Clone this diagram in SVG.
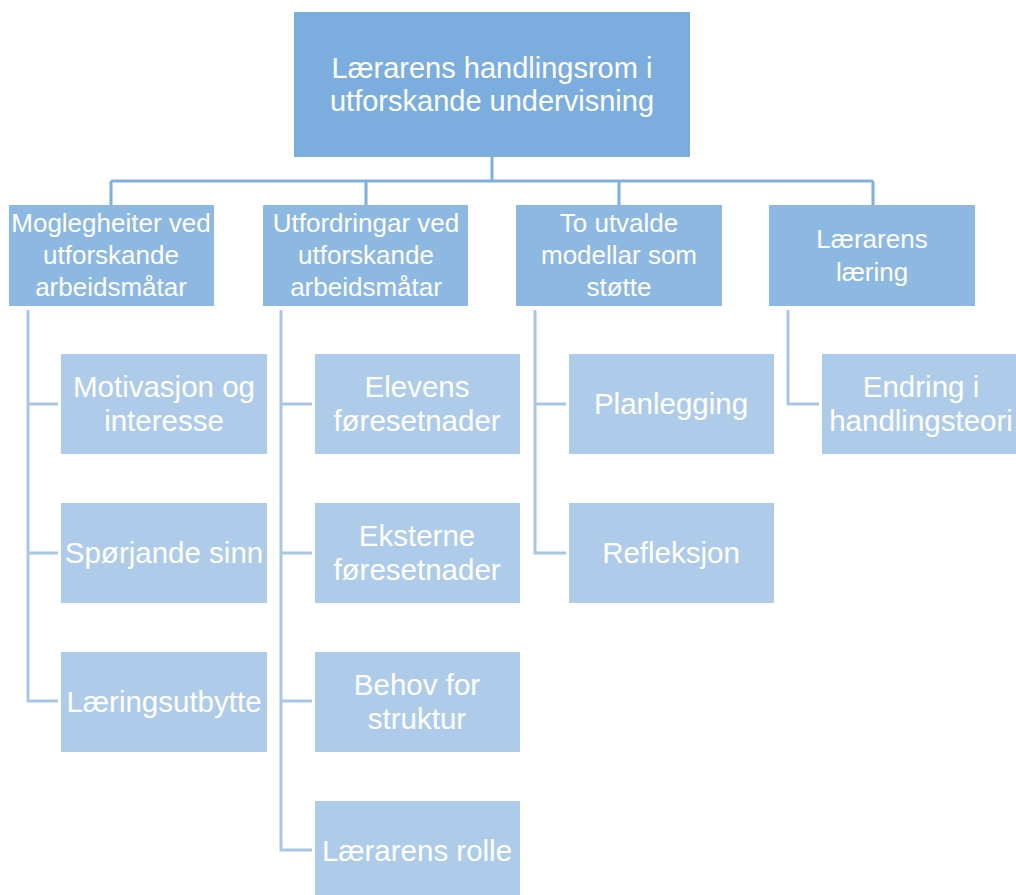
<svg xmlns="http://www.w3.org/2000/svg" width="1016" height="895" viewBox="0 0 1016 895">
  <style>
    .root { fill: #7BAEDE; }
    .l2 { fill: #8DB8E1; }
    .l3 { fill: #AECCEA; }
    text { fill: #FFFFFF; font-family: "Liberation Sans", "Noto Sans", Arial, sans-serif; text-anchor: middle; }
    .t1 { font-size: 29px; }
    .t2 { font-size: 26px; }
    .t3 { font-size: 29.5px; }
    .top-links { fill: none; stroke: #7EAFDD; stroke-width: 3; }
    .sub-links { fill: none; stroke: #A8C7E7; stroke-width: 3; }
  </style>
  <rect width="1016" height="895" fill="#FFFFFF"/>

  <!-- connectors -->
  <g id="connectors">
    <path class="top-links" d="M492 157 V181 M111 181 H873 M111 181 V205 M366 181 V205 M619 181 V205 M873 181 V205"/>
    <path class="sub-links" d="M28 310 V701 H58 M28 404 H58 M28 553 H58"/>
    <path class="sub-links" d="M281 310 V850 H312 M281 404 H312 M281 553 H312 M281 701 H312"/>
    <path class="sub-links" d="M535 310 V553 H566 M535 404 H566"/>
    <path class="sub-links" d="M788 310 V404 H819"/>
  </g>

  <!-- root -->
  <g id="root" class="t1">
    <rect class="root" x="294" y="12" width="396" height="145"/>
    <text x="492" y="78">Lærarens handlingsrom i</text>
    <text x="492" y="111">utforskande undervisning</text>
  </g>

  <!-- level 2 -->
  <g id="moglegheiter" class="t2">
    <rect class="l2" x="9" y="205" width="205" height="101"/>
    <text x="111" y="232">Moglegheiter ved</text>
    <text x="111" y="264">utforskande</text>
    <text x="111" y="296">arbeidsmåtar</text>
  </g>
  <g id="utfordringar" class="t2">
    <rect class="l2" x="263" y="205" width="205" height="101"/>
    <text x="366" y="232">Utfordringar ved</text>
    <text x="366" y="264">utforskande</text>
    <text x="366" y="296">arbeidsmåtar</text>
  </g>
  <g id="modellar" class="t2">
    <rect class="l2" x="516" y="205" width="206" height="101"/>
    <text x="619" y="232">To utvalde</text>
    <text x="619" y="264">modellar som</text>
    <text x="619" y="296">støtte</text>
  </g>
  <g id="laering" class="t2">
    <rect class="l2" x="769" y="205" width="206" height="101"/>
    <text x="872" y="248">Lærarens</text>
    <text x="872" y="281">læring</text>
  </g>

  <!-- level 3, column 1 -->
  <g id="motivasjon" class="t3">
    <rect class="l3" x="61" y="354" width="206" height="100"/>
    <text x="164" y="397">Motivasjon og</text>
    <text x="164" y="431">interesse</text>
  </g>
  <g id="sporjande" class="t3">
    <rect class="l3" x="61" y="503" width="206" height="100"/>
    <text x="164" y="563">Spørjande sinn</text>
  </g>
  <g id="utbytte" class="t3">
    <rect class="l3" x="61" y="652" width="206" height="100"/>
    <text x="164" y="712">Læringsutbytte</text>
  </g>

  <!-- level 3, column 2 -->
  <g id="elevens" class="t3">
    <rect class="l3" x="315" y="354" width="205" height="100"/>
    <text x="417" y="397">Elevens</text>
    <text x="417" y="431">føresetnader</text>
  </g>
  <g id="eksterne" class="t3">
    <rect class="l3" x="315" y="503" width="205" height="100"/>
    <text x="417" y="546">Eksterne</text>
    <text x="417" y="580">føresetnader</text>
  </g>
  <g id="struktur" class="t3">
    <rect class="l3" x="315" y="652" width="205" height="100"/>
    <text x="417" y="695">Behov for</text>
    <text x="417" y="729">struktur</text>
  </g>
  <g id="rolle" class="t3">
    <rect class="l3" x="315" y="801" width="205" height="100"/>
    <text x="417" y="861">Lærarens rolle</text>
  </g>

  <!-- level 3, column 3 -->
  <g id="planlegging" class="t3">
    <rect class="l3" x="569" y="354" width="205" height="100"/>
    <text x="671" y="414">Planlegging</text>
  </g>
  <g id="refleksjon" class="t3">
    <rect class="l3" x="569" y="503" width="205" height="100"/>
    <text x="671" y="563">Refleksjon</text>
  </g>

  <!-- level 3, column 4 -->
  <g id="handlingsteori" class="t3">
    <rect class="l3" x="822" y="354" width="206" height="100"/>
    <text x="921" y="397">Endring i</text>
    <text x="921" y="431">handlingsteori</text>
  </g>
</svg>
